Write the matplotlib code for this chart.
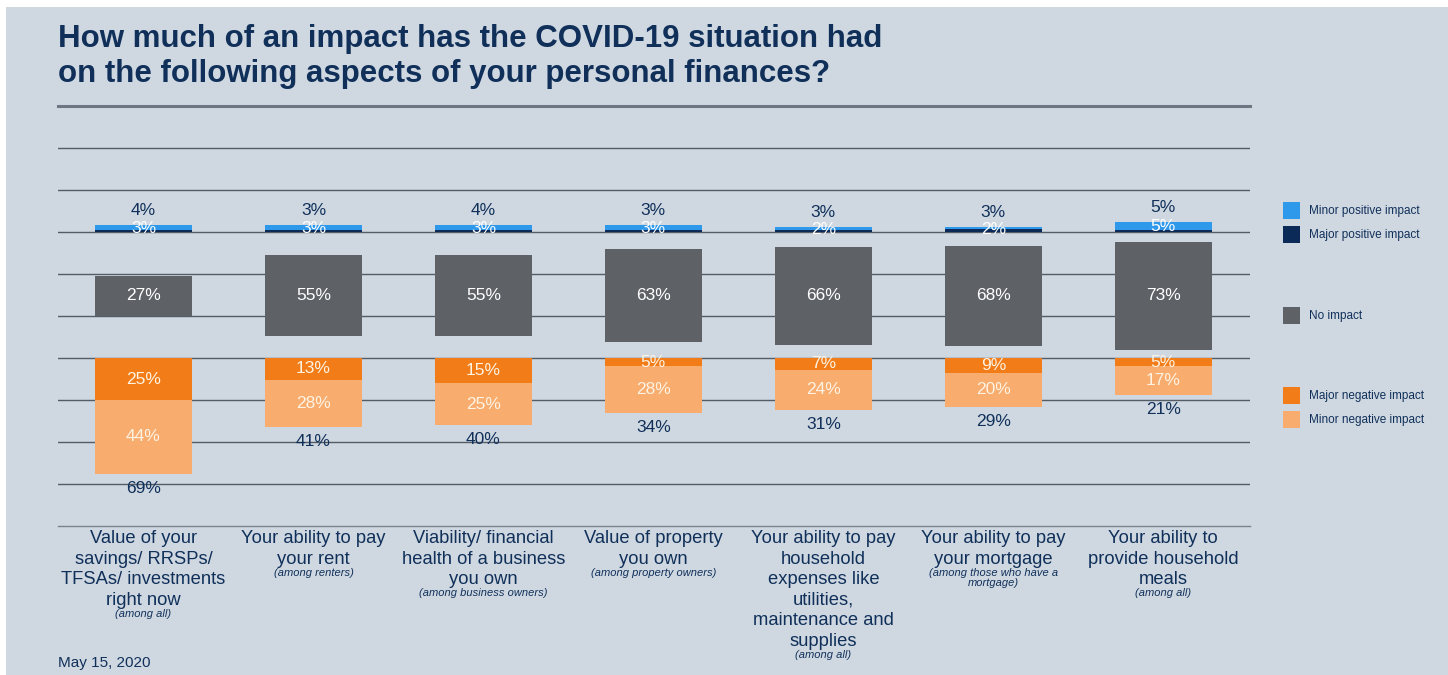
import matplotlib.pyplot as plt
from matplotlib.patches import Rectangle
import numpy as np

plt.rcParams['font.family'] = ['Liberation Sans', 'DejaVu Sans']

# data
categories = [
    "Value of your\nsavings/ RRSPs/\nTFSAs/ investments\nright now",
    "Your ability to pay\nyour rent",
    "Viability/ financial\nhealth of a business\nyou own",
    "Value of property\nyou own",
    "Your ability to pay\nhousehold\nexpenses like\nutilities,\nmaintenance and\nsupplies",
    "Your ability to pay\nyour mortgage",
    "Your ability to\nprovide household\nmeals",
]
bases = [
    "(among all)",
    "(among renters)",
    "(among business owners)",
    "(among property owners)",
    "(among all)",
    "(among those who have a\nmortgage)",
    "(among all)",
]
minor_pos = [3, 3, 3, 3, 2, 1, 5]
major_pos = [1, 1, 1, 1, 1, 2, 1]
pos_label = [3, 3, 3, 3, 2, 2, 5]
pos_total = [4, 3, 4, 3, 3, 3, 5]
no_impact = [27, 55, 55, 63, 66, 68, 73]
major_neg = [25, 13, 15, 5, 7, 9, 5]
minor_neg = [44, 28, 25, 28, 24, 20, 17]
neg_total = [69, 41, 40, 34, 31, 29, 21]

BG = '#cfd8e1'
NAVY = '#10305a'
C_MINOR_POS = '#2e98ea'
C_MAJOR_POS = '#0b2a57'
C_NONE = '#5e6166'
C_MAJOR_NEG = '#f27d18'
C_MINOR_NEG = '#f8ac6e'

W, H = 1448, 675
fig = plt.figure(figsize=(W / 100, H / 100), dpi=100, facecolor='white')
fig.patches.append(Rectangle((6 / W, 0), 1, (H - 7) / H, transform=fig.transFigure,
                             facecolor=BG, edgecolor='none', zorder=-10))

# axes: px 58..1250 horizontally, px 106..526 vertically
ax = fig.add_axes([58 / W, (H - 526) / H, (1250 - 58) / W, 420 / H])
ax.set_facecolor('none')
ax.set_xlim(-0.503, 6.51)
ax.set_ylim(-175, 75)
for s in ax.spines.values():
    s.set_visible(False)
ax.set_xticks([])
ax.set_yticks([])

for yy in np.arange(-150, 75, 25):
    ax.axhline(yy, color='#545c66', lw=1.0, zorder=0)
ax.axhline(75, color='#6d7682', lw=2.2, zorder=0, clip_on=False)
ax.axhline(-175, color='#7a838d', lw=1.0, zorder=0, clip_on=False)

x = np.arange(len(categories))
bw = 0.57
NEG_TOP = -75
NONE_CENTER = -38
NONE_SCALE = 0.88

minor_pos = np.array(minor_pos)
major_pos = np.array(major_pos)
no_impact = np.array(no_impact)
major_neg = np.array(major_neg)
minor_neg = np.array(minor_neg)

# positive stack
ax.bar(x, major_pos, bw, bottom=0, color=C_MAJOR_POS, zorder=2)
ax.bar(x, minor_pos, bw, bottom=major_pos, color=C_MINOR_POS, zorder=2)
# no impact
h_none = no_impact * NONE_SCALE
ax.bar(x, h_none, bw, bottom=NONE_CENTER - h_none / 2, color=C_NONE, zorder=2)
# negative stack (downward)
ax.bar(x, -major_neg, bw, bottom=NEG_TOP, color=C_MAJOR_NEG, zorder=2)
ax.bar(x, -minor_neg, bw, bottom=NEG_TOP - major_neg, color=C_MINOR_NEG, zorder=2)

fs = 12.5
for i in x:
    top = major_pos[i] + minor_pos[i]
    ax.annotate(f"{pos_total[i]}%", (i, top), xytext=(0, 5), textcoords='offset points',
                ha='center', va='bottom', color=NAVY, fontsize=fs)
    ax.text(i, top / 2, f"{pos_label[i]}%", ha='center', va='center',
            color='white', fontsize=fs, zorder=3)
    ax.text(i, NONE_CENTER, f"{no_impact[i]}%", ha='center', va='center',
            color='white', fontsize=fs, zorder=3)
    ax.text(i, NEG_TOP - major_neg[i] / 2, f"{major_neg[i]}%", ha='center', va='center',
            color='#fdf3e3', fontsize=fs, zorder=3)
    ax.text(i, NEG_TOP - major_neg[i] - minor_neg[i] / 2, f"{minor_neg[i]}%",
            ha='center', va='center', color='#fdf3e3', fontsize=fs, zorder=3)
    bottom = NEG_TOP - major_neg[i] - minor_neg[i]
    ax.annotate(f"{neg_total[i]}%", (i, bottom), xytext=(0, -5), textcoords='offset points',
                ha='center', va='top', color=NAVY, fontsize=fs)

    # category labels under the chart
    t = ax.annotate(categories[i], (i, -175), xytext=(0, -3), textcoords='offset points',
                    ha='center', va='top', color=NAVY, fontsize=13.2, linespacing=1.27,
                    annotation_clip=False)
    ax.annotate(bases[i], xy=(0.5, 0), xycoords=t, xytext=(0, 0), textcoords='offset points',
                ha='center', va='top', color=NAVY, fontsize=8, style='italic',
                linespacing=1.0)

# title
fig.text(58 / W, 1 - 24 / H, "How much of an impact has the COVID-19 situation had\n"
         "on the following aspects of your personal finances?",
         ha='left', va='top', color=NAVY, fontsize=22.5, fontweight='bold', linespacing=1.2)

# legend
legend_items = [
    ("Minor positive impact", C_MINOR_POS, 211),
    ("Major positive impact", C_MAJOR_POS, 235),
    ("No impact", C_NONE, 316),
    ("Major negative impact", C_MAJOR_NEG, 396),
    ("Minor negative impact", C_MINOR_NEG, 420),
]
for label, col, py in legend_items:
    fig.patches.append(Rectangle((1283 / W, 1 - (py + 8) / H), 17 / W, 17 / H,
                                 transform=fig.transFigure, facecolor=col, edgecolor='none'))
    fig.text(1309 / W, 1 - py / H, label, ha='left', va='center', color=NAVY, fontsize=8.5)

fig.text(58 / W, 1 - 663 / H, "May 15, 2020", ha='left', va='center', color=NAVY, fontsize=11)

fig.savefig('out.png', dpi=100, facecolor=fig.get_facecolor())
